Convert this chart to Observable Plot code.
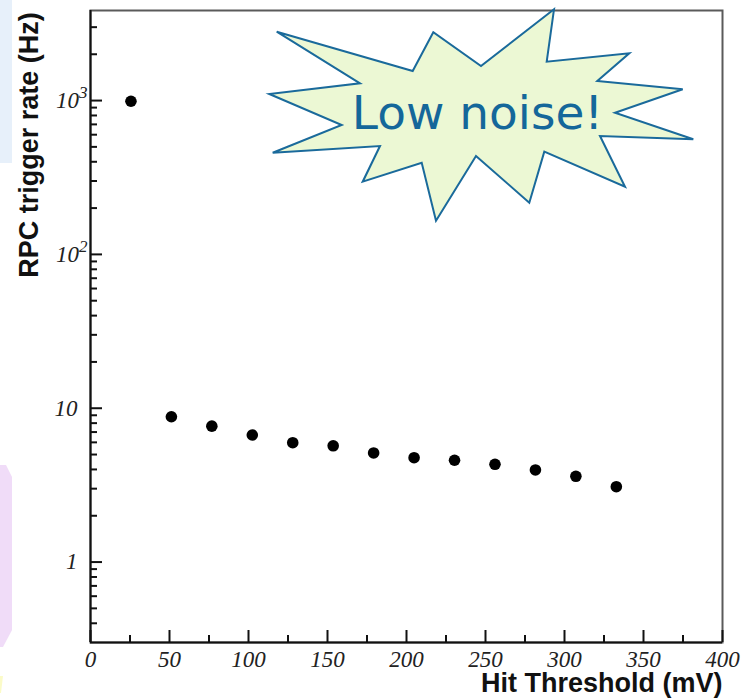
<!DOCTYPE html>
<html>
<head>
<meta charset="utf-8">
<script src="https://cdn.jsdelivr.net/npm/d3@7"></script>
<script src="https://cdn.jsdelivr.net/npm/@observablehq/plot@0.6"></script>
<style>
  html, body { margin: 0; padding: 0; background: #fff; }
  #chart { width: 745px; height: 699px; }
</style>
</head>
<body>
<div id="chart"></div>
<script>
// ---- data ----
const thresholds = [25.6, 51.2, 76.8, 102.4, 128, 153.6, 179.2, 204.8, 230.4, 256, 281.6, 307.2, 332.8];
const rates = [990, 8.8, 7.65, 6.7, 5.97, 5.7, 5.12, 4.77, 4.59, 4.32, 3.97, 3.61, 3.09];

const xMajorTicks = [0, 50, 100, 150, 200, 250, 300, 350, 400];
const xMinorTicks = [25, 75, 125, 175, 225, 275, 325, 375];
const yMajorTicks = [1, 10, 100, 1000];
const yTickLabels = ["1", "10", "10^2", "10^3"];
const yMinorTicks = [0.4, 0.5, 0.6, 0.7, 0.8, 0.9,
                     2, 3, 4, 5, 6, 7, 8, 9,
                     20, 30, 40, 50, 60, 70, 80, 90,
                     200, 300, 400, 500, 600, 700, 800, 900,
                     2000, 3000];

const xTitle = "Hit Threshold (mV)";
const yTitle = "RPC trigger rate (Hz)";
const burstText = "Low noise!";

// annotation shape (pixel outline of the callout)
const burstShape = [
  [276.7, 31.7], [412.7, 71], [433.3, 32.3], [481, 66], [554, 9.3], [546.7, 61.7],
  [629.3, 53.3], [597.3, 81], [682.7, 89.3], [615, 112.7], [693.3, 139.3], [600, 136],
  [625, 186.7], [544.3, 151.7], [529.3, 202.7], [476, 156], [436, 220.7], [421.7, 162.7],
  [362.7, 181.7], [380, 146], [272.7, 152.7], [341.7, 125], [269.3, 94], [360, 83.3]
];
const burstLabelPos = {x: 477.5, y: 128.5};

// ---- layout ----
const W = 745, H = 699;
const mL = 90, mR = 23, mT = 10, mB = 57;
const majorLen = 12, minorLen = 7;

const rows = thresholds.map((t, i) => ({threshold: t, rate: rates[i]}));
const axisColor = "#111";
const serif = "'Liberation Serif', 'Times New Roman', serif";
const sans = "'Liberation Sans', Arial, sans-serif";

const chart = Plot.plot({
  width: W, height: H,
  marginLeft: mL, marginRight: mR, marginTop: mT, marginBottom: mB,
  style: {fontFamily: serif, fontSize: "23px", fontStyle: "italic", color: "#222"},
  x: {domain: [0, 400]},
  y: {type: "log", domain: [0.3, 3850]},
  marks: [
    Plot.frame({stroke: "#5a5a5a", strokeWidth: 2}),
    // major ticks pointing inward, with their labels
    Plot.axisX({ticks: xMajorTicks, tickSize: majorLen, dy: -majorLen, tickPadding: 8,
      tickFormat: d => String(d), label: null, stroke: axisColor, strokeWidth: 2}),
    Plot.axisY({ticks: yMajorTicks, tickSize: majorLen, dx: majorLen, tickPadding: 13,
      tickFormat: d => yTickLabels[yMajorTicks.indexOf(d)], label: null, stroke: axisColor, strokeWidth: 2}),
    // minor ticks pointing inward
    Plot.axisX({ticks: xMinorTicks, tickSize: minorLen, dy: -minorLen, tickFormat: () => "", label: null,
      stroke: axisColor, strokeWidth: 2}),
    Plot.axisY({ticks: yMinorTicks, tickSize: minorLen, dx: minorLen, tickFormat: () => "", label: null,
      stroke: axisColor, strokeWidth: 2}),
    Plot.ruleX([0], {stroke: axisColor, strokeWidth: 2}),
    Plot.ruleY([0.3], {stroke: axisColor, strokeWidth: 2}),
    Plot.dot(rows, {x: "threshold", y: "rate", r: 5.8, fill: "#000", stroke: null}),
    Plot.text([xTitle], {text: d => d, frameAnchor: "bottom-right", dy: 49, lineAnchor: "bottom",
      textAnchor: "end", fontFamily: sans, fontWeight: "bold", fontStyle: "normal", fontSize: 27, fill: "#111"}),
    Plot.text([yTitle], {text: d => d, frameAnchor: "left", rotate: -90, dx: -53, dy: -181.5,
      lineAnchor: "bottom", textAnchor: "middle", fontFamily: sans,
      fontWeight: "bold", fontStyle: "normal", fontSize: 27, fill: "#111"})
  ]
});

document.getElementById("chart").appendChild(chart);
const svg = d3.select(chart);

// superscript exponents on y tick labels
svg.selectAll('g[aria-label="y-axis tick label"] text').each(function() {
  const m = this.textContent.match(/^10\^(\d+)$/);
  if (m) {
    this.textContent = "10";
    d3.select(this).append("tspan").attr("dy", "-10").attr("font-size", "17px").text(m[1]);
    const tr = this.getAttribute("transform") || "";
    this.setAttribute("transform", tr + " translate(10,0)");
  }
});

// faint slide background remnants on the left edge
const bg = svg.insert("g", ":first-child");
bg.append("rect").attr("x", 0).attr("y", 0).attr("width", 12).attr("height", 163).attr("fill", "#e7f0fa");
bg.append("path").attr("d", "M0,465 L6,465 L12,477 L12,630 L3,647 L0,647 Z").attr("fill", "#f0dcf8");
bg.append("path").attr("d", "M0,676 L3,676 L1,693 L0,693 Z").attr("fill", "#fbfbc8");

// callout annotation
const ann = svg.append("g");
ann.append("path")
  .attr("d", "M" + burstShape.map(p => p.join(",")).join("L") + "Z")
  .attr("fill", "#ecf8d4")
  .attr("stroke", "#1a6a9b")
  .attr("stroke-width", 2)
  .attr("stroke-linejoin", "miter");
ann.append("text")
  .attr("x", burstLabelPos.x).attr("y", burstLabelPos.y)
  .attr("text-anchor", "middle")
  .attr("font-family", "'DejaVu Sans', Verdana, sans-serif")
  .attr("font-size", 47)
  .attr("font-style", "normal")
  .attr("fill", "#14679a")
  .text(burstText);
</script>
</body>
</html>
